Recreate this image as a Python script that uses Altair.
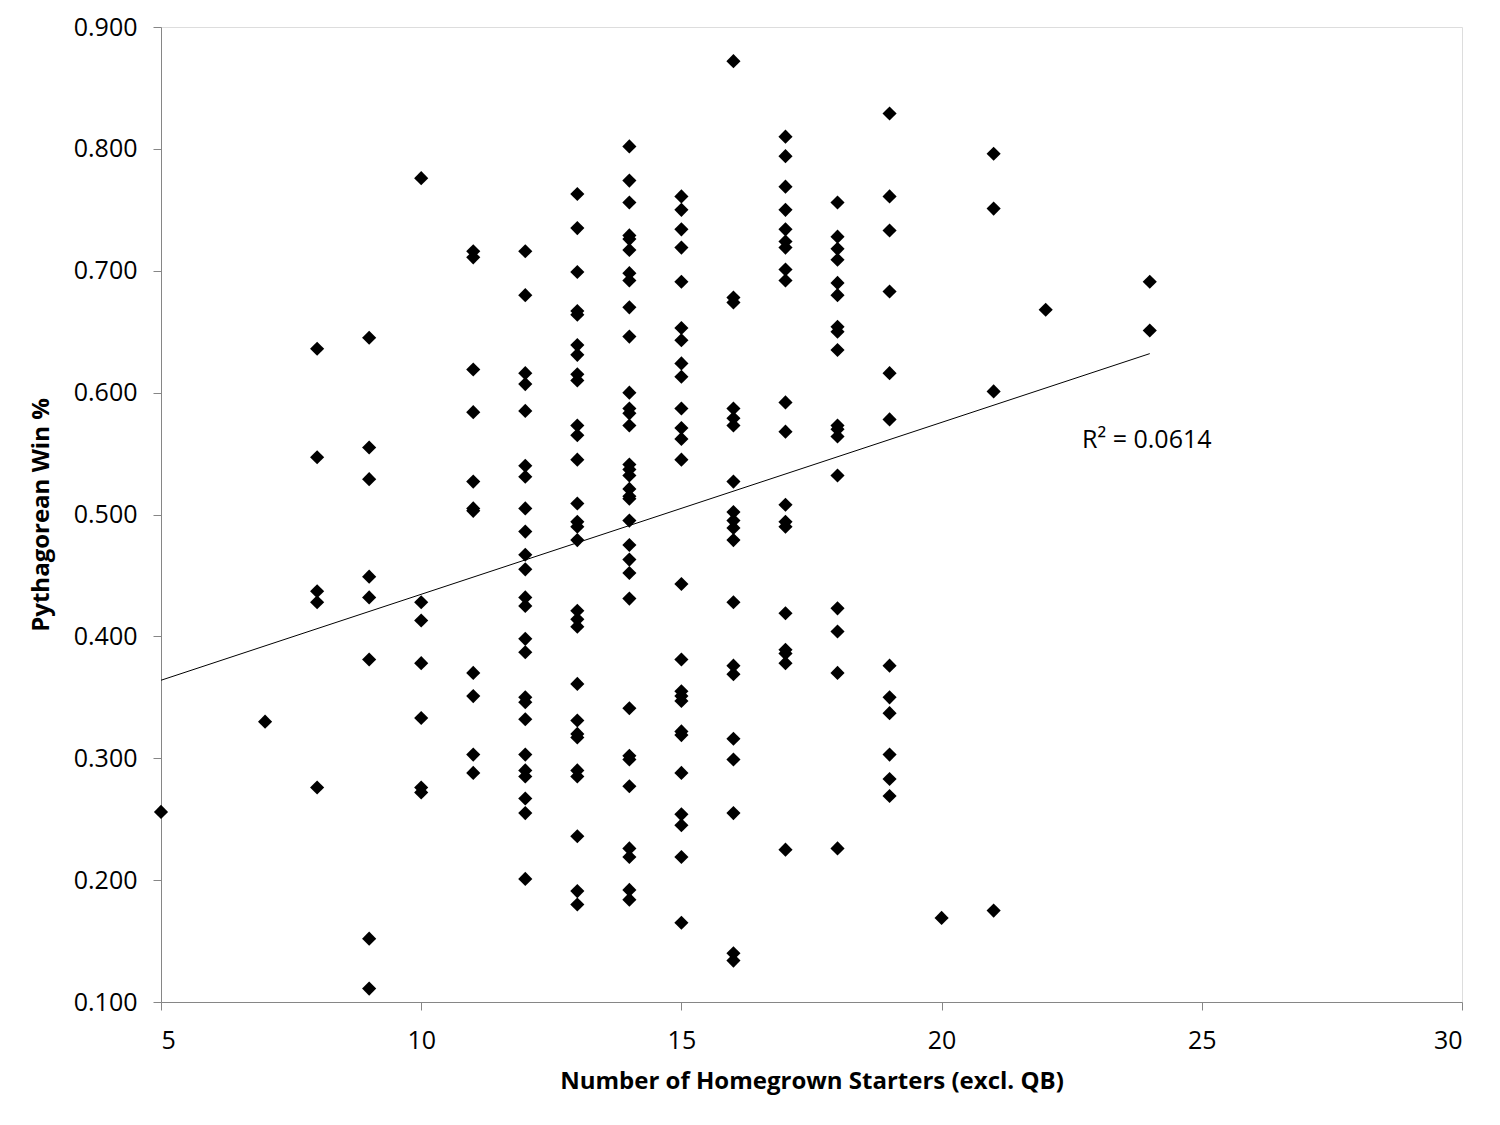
import altair as alt
import pandas as pd

# Number of homegrown starters (x) and Pythagorean win % (y), grouped by column
starters = {
    5: [0.256],
    7: [0.330],
    8: [0.636, 0.547, 0.437, 0.428, 0.276],
    9: [0.645, 0.555, 0.529, 0.449, 0.432, 0.381, 0.152, 0.111],
    10: [0.776, 0.428, 0.413, 0.378, 0.333, 0.276, 0.272],
    11: [0.716, 0.711, 0.619, 0.584, 0.527, 0.505, 0.503, 0.370, 0.351, 0.303, 0.288],
    12: [0.716, 0.680, 0.616, 0.607, 0.585, 0.540, 0.531, 0.505, 0.486, 0.467,
         0.455, 0.432, 0.425, 0.398, 0.387, 0.350, 0.346, 0.332, 0.303, 0.290,
         0.285, 0.267, 0.255, 0.201],
    13: [0.763, 0.735, 0.699, 0.667, 0.664, 0.639, 0.631, 0.615, 0.610, 0.573,
         0.565, 0.545, 0.509, 0.494, 0.490, 0.479, 0.421, 0.414, 0.408, 0.361,
         0.331, 0.320, 0.317, 0.290, 0.285, 0.236, 0.191, 0.180],
    14: [0.802, 0.774, 0.756, 0.729, 0.726, 0.717, 0.698, 0.692, 0.670, 0.646,
         0.600, 0.587, 0.583, 0.573, 0.541, 0.537, 0.532, 0.521, 0.515, 0.513,
         0.495, 0.475, 0.463, 0.452, 0.431, 0.341, 0.302, 0.299, 0.277, 0.226,
         0.219, 0.192, 0.184],
    15: [0.761, 0.750, 0.734, 0.719, 0.691, 0.653, 0.643, 0.624, 0.613, 0.587,
         0.571, 0.562, 0.545, 0.443, 0.381, 0.355, 0.351, 0.347, 0.322, 0.319,
         0.288, 0.254, 0.245, 0.219, 0.165],
    16: [0.872, 0.678, 0.674, 0.587, 0.579, 0.573, 0.527, 0.502, 0.495, 0.489,
         0.479, 0.428, 0.376, 0.369, 0.316, 0.299, 0.255, 0.140, 0.134],
    17: [0.810, 0.794, 0.769, 0.750, 0.734, 0.724, 0.719, 0.701, 0.692, 0.592,
         0.568, 0.508, 0.494, 0.490, 0.419, 0.389, 0.386, 0.378, 0.225],
    18: [0.756, 0.728, 0.718, 0.709, 0.690, 0.680, 0.654, 0.650, 0.635, 0.573,
         0.570, 0.564, 0.532, 0.423, 0.404, 0.370, 0.226],
    19: [0.829, 0.761, 0.733, 0.683, 0.616, 0.578, 0.376, 0.350, 0.337, 0.303,
         0.283, 0.269],
    20: [0.169],
    21: [0.796, 0.751, 0.601, 0.175],
    22: [0.668],
    24: [0.691, 0.651],
}

# Linear trendline end points
trend_x = [5, 24]
trend_y = [0.364, 0.632]

label_text = ["R² = 0.0614"]
label_x = [22.7]
label_y = [0.561]

x_vals = []
y_vals = []
for k, vs in starters.items():
    for v in vs:
        x_vals.append(k)
        y_vals.append(v)

df = pd.DataFrame({"starters": x_vals, "win": y_vals})
tdf = pd.DataFrame({"starters": trend_x, "win": trend_y})
lab = pd.DataFrame({"starters": label_x, "win": label_y, "t": label_text})

FONT = "Open Sans"
AX = "#868686"

xscale = alt.Scale(domain=[5, 30], nice=False, zero=False)
yscale = alt.Scale(domain=[0.1, 0.9], nice=False, zero=False)

xaxis = alt.Axis(
    title="Number of Homegrown Starters (excl. QB)",
    values=[5, 10, 15, 20, 25, 30],
    grid=False, domainColor=AX, tickColor=AX, tickSize=8,
    labelFontSize=25, labelColor="black", labelPadding=18, labelFont=FONT,
    titleFontSize=24, titleFont=FONT, titleFontWeight="bold", titlePadding=16,
    titleColor="black",
)
yaxis = alt.Axis(
    title="Pythagorean Win %",
    values=[0.1, 0.2, 0.3, 0.4, 0.5, 0.6, 0.7, 0.8, 0.9],
    format=".3f",
    grid=False, domainColor=AX, tickColor=AX, tickSize=8,
    labelFontSize=25, labelColor="black", labelPadding=16, labelFont=FONT,
    titleFontSize=24, titleFont=FONT, titleFontWeight="bold", titlePadding=20,
    titleColor="black",
)

points = alt.Chart(df).mark_point(
    shape="diamond", filled=True, color="black", size=200, opacity=1
).encode(
    x=alt.X("starters:Q", scale=xscale, axis=xaxis),
    y=alt.Y("win:Q", scale=yscale, axis=yaxis),
)

trend = alt.Chart(tdf).mark_line(color="black", strokeWidth=1).encode(
    x=alt.X("starters:Q", scale=xscale),
    y=alt.Y("win:Q", scale=yscale),
)

text = alt.Chart(lab).mark_text(
    align="left", baseline="middle", fontSize=25, font=FONT, color="black"
).encode(
    x=alt.X("starters:Q", scale=xscale),
    y=alt.Y("win:Q", scale=yscale),
    text="t:N",
)

chart = (
    alt.layer(points, trend, text)
    .properties(width=1301, height=975,
                padding={"left": 21, "top": 7, "right": 20, "bottom": 10})
    .configure_view(stroke=None, strokeWidth=0)
    .configure(background="white")
)

chart.save("out.html", embed_options={"renderer": "svg", "actions": False})
